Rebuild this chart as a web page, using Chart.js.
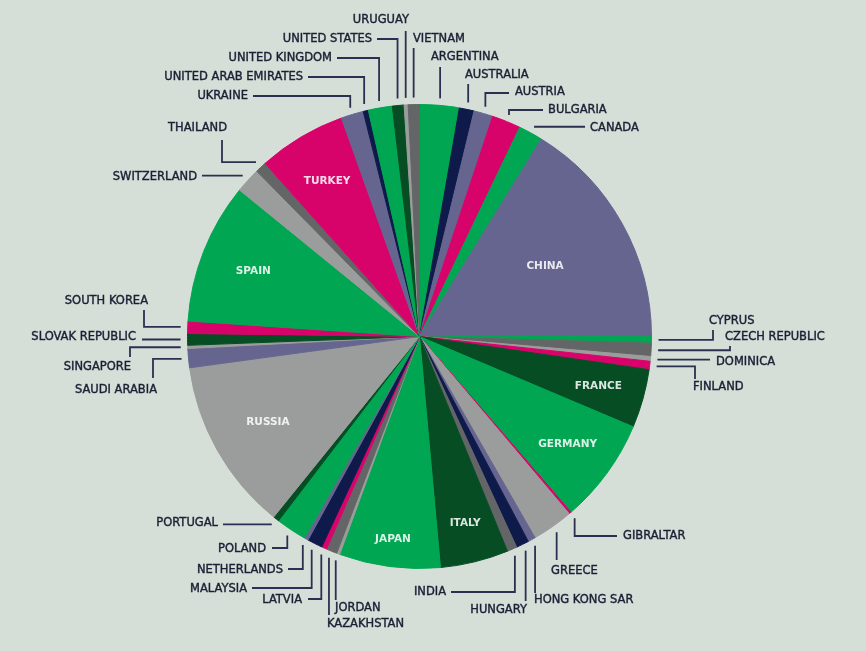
<!DOCTYPE html>
<html>
<head>
<meta charset="utf-8">
<title>Country share pie</title>
<script src="https://cdn.jsdelivr.net/npm/chart.js@4.4.0/dist/chart.umd.min.js"></script>
<style>
  html, body { margin:0; padding:0; background:#d6ded8; }
  #wrap { width:866px; height:651px; }
</style>
</head>
<body>
<div id="wrap"><canvas id="pie" width="866" height="651"></canvas></div>
<script>
// Countries clockwise from 12 o'clock, share in %
const COUNTRIES = [
  'ARGENTINA','AUSTRALIA','AUSTRIA','BULGARIA','CANADA','CHINA','CYPRUS','CZECH REPUBLIC',
  'DOMINICA','FINLAND','FRANCE','GERMANY','GIBRALTAR','GREECE','HONG KONG SAR','HUNGARY',
  'INDIA','ITALY','JAPAN','JORDAN','KAZAKHSTAN','LATVIA','MALAYSIA','NETHERLANDS',
  'POLAND','PORTUGAL','RUSSIA','SAUDI ARABIA','SINGAPORE','SLOVAK REPUBLIC','SOUTH KOREA','SPAIN',
  'SWITZERLAND','THAILAND','TURKEY','UKRAINE','UNITED ARAB EMIRATES','UNITED KINGDOM','UNITED STATES','URUGUAY',
  'VIETNAM'
];
const SHARES = [
  2.75, 1.03, 1.33, 2.00, 1.69, 16.19, 0.47, 0.92,
  0.33, 0.58, 4.08, 7.31, 0.17, 2.86, 0.53, 0.89,
  0.69, 4.75, 7.03, 0.22, 0.75, 0.36, 1.06, 0.28,
  2.14, 0.42, 12.03, 1.33, 0.22, 0.81, 0.86, 9.81,
  1.75, 0.78, 6.14, 1.56, 0.36, 1.67, 0.81, 0.28,
  0.78
];

// colour key per slice
const PALETTE = {
  G:'#00a651', N:'#0e1a4a', S:'#65658f', M:'#d8036a',
  L:'#9b9c9c', D:'#646566', K:'#064d24'
};
const SLICE_COLORS = [
  'G','N','S','M','G','S','G','D',
  'L','M','K','G','M','L','S','N',
  'D','K','G','L','D','M','N','S',
  'G','K','L','S','L','K','M','G',
  'L','D','M','S','N','G','K','L',
  'D'
];

// labels inside the big slices: fraction of the radius
const INSIDE = {
  'CHINA':0.62, 'FRANCE':0.80, 'GERMANY':0.79, 'ITALY':0.83,
  'JAPAN':0.88, 'RUSSIA':0.75, 'SPAIN':0.77, 'TURKEY':0.78
};

// outside callouts: [leader kind, a, b, text x, text y, align]
// v: vertical to y=a | h: horizontal to x=a | vh: vertical to y=a then horizontal to x=b | hv: horizontal to x=a then vertical to y=b
const CALLOUTS = {
  'URUGUAY':              ['v', 31, null, 409, 20, 'right'],
  'VIETNAM':              ['v', 48, null, 413, 39, 'left'],
  'UNITED STATES':        ['vh', 39, 377, 372, 39, 'right'],
  'UNITED KINGDOM':       ['vh', 58, 337, 332, 58, 'right'],
  'UNITED ARAB EMIRATES': ['vh', 77, 308, 303, 77, 'right'],
  'UKRAINE':              ['vh', 96, 253, 248, 96, 'right'],
  'THAILAND':             ['hv', 222, 140, 227, 128, 'right'],
  'SWITZERLAND':          ['h', 202, null, 197, 177, 'right'],
  'ARGENTINA':            ['v', 67, null, 431, 57, 'left'],
  'AUSTRALIA':            ['v', 84, null, 465, 75, 'left'],
  'AUSTRIA':              ['vh', 93, 509, 515, 92, 'left'],
  'BULGARIA':             ['vh', 110, 543, 548, 110, 'left'],
  'CANADA':               ['h', 585, null, 590, 128, 'left'],
  'CYPRUS':               ['hv', 713, 330, 709, 321, 'left'],
  'CZECH REPUBLIC':       ['hv', 730, 346, 725, 337, 'left'],
  'DOMINICA':             ['h', 710, null, 716, 362, 'left'],
  'FINLAND':              ['hv', 695, 379, 693, 387, 'left'],
  'GIBRALTAR':            ['vh', 536, 617, 623, 536, 'left'],
  'GREECE':               ['v', 560, null, 551, 571, 'left'],
  'HONG KONG SAR':        ['v', 593, null, 534, 600, 'left'],
  'HUNGARY':              ['v', 601, null, 527, 610, 'right'],
  'INDIA':                ['vh', 592, 451, 446, 592, 'right'],
  'JORDAN':               ['v', 600, null, 335, 608, 'left'],
  'KAZAKHSTAN':           ['v', 615, null, 327, 624, 'left'],
  'LATVIA':               ['vh', 599, 308, 302, 600, 'right'],
  'MALAYSIA':             ['vh', 588, 252, 247, 589, 'right'],
  'NETHERLANDS':          ['vh', 569, 288, 283, 570, 'right'],
  'POLAND':               ['vh', 548, 272, 266, 549, 'right'],
  'PORTUGAL':             ['h', 223, null, 218, 523, 'right'],
  'SAUDI ARABIA':         ['hv', 153, 378, 157, 390, 'right'],
  'SINGAPORE':            ['hv', 130, 357, 131, 367, 'right'],
  'SLOVAK REPUBLIC':      ['h', 142, null, 136, 337, 'right'],
  'SOUTH KOREA':          ['hv', 144, 310, 148, 301, 'right']
};

const calloutPlugin = {
  id: 'callouts',
  afterDatasetsDraw(chart) {
    const ctx = chart.ctx;
    const arcs = chart.getDatasetMeta(0).data;
    ctx.save();
    ctx.textBaseline = 'middle';
    arcs.forEach((arc, i) => {
      const name = COUNTRIES[i];
      const p = arc.getProps(['x', 'y', 'startAngle', 'endAngle', 'outerRadius'], true);
      const mid = (p.startAngle + p.endAngle) / 2;
      const at = r => ({ x: p.x + Math.cos(mid) * r, y: p.y + Math.sin(mid) * r });

      if (INSIDE[name]) {
        const q = at(p.outerRadius * INSIDE[name]);
        ctx.font = 'bold 10.5px "DejaVu Sans"';
        ctx.fillStyle = 'rgba(255,255,255,0.86)';
        ctx.textAlign = 'center';
        ctx.fillText(name, q.x, q.y);
        return;
      }
      const c = CALLOUTS[name];
      if (!c) return;
      const [kind, a, b, tx, ty, align] = c;
      const s = at(p.outerRadius + 7);
      ctx.beginPath();
      ctx.moveTo(s.x, s.y);
      if (kind === 'v') ctx.lineTo(s.x, a);
      if (kind === 'h') ctx.lineTo(a, s.y);
      if (kind === 'vh') { ctx.lineTo(s.x, a); ctx.lineTo(b, a); }
      if (kind === 'hv') { ctx.lineTo(a, s.y); ctx.lineTo(a, b); }
      ctx.strokeStyle = '#2a3150';
      ctx.lineWidth = 1.8;
      ctx.stroke();

      // slightly heavier than regular weight, like the original's medium face
      ctx.font = '11.5px "DejaVu Sans"';
      ctx.fillStyle = '#1b2034';
      ctx.strokeStyle = '#1b2034';
      ctx.lineWidth = 0.4;
      ctx.textAlign = align;
      ctx.fillText(name, tx, ty);
      ctx.strokeText(name, tx, ty);
    });
    ctx.restore();
  }
};

const colors = SLICE_COLORS.map(k => PALETTE[k]);

new Chart(document.getElementById('pie'), {
  type: 'pie',
  data: {
    labels: COUNTRIES,
    datasets: [{
      data: SHARES,
      backgroundColor: colors,
      borderColor: colors,
      borderWidth: 1
    }]
  },
  options: {
    responsive: false,
    animation: false,
    layout: { padding: { top: 104, bottom: 82, left: 0, right: 27 } },
    plugins: {
      legend: { display: false },
      tooltip: { enabled: false }
    }
  },
  plugins: [calloutPlugin]
});
</script>
</body>
</html>
